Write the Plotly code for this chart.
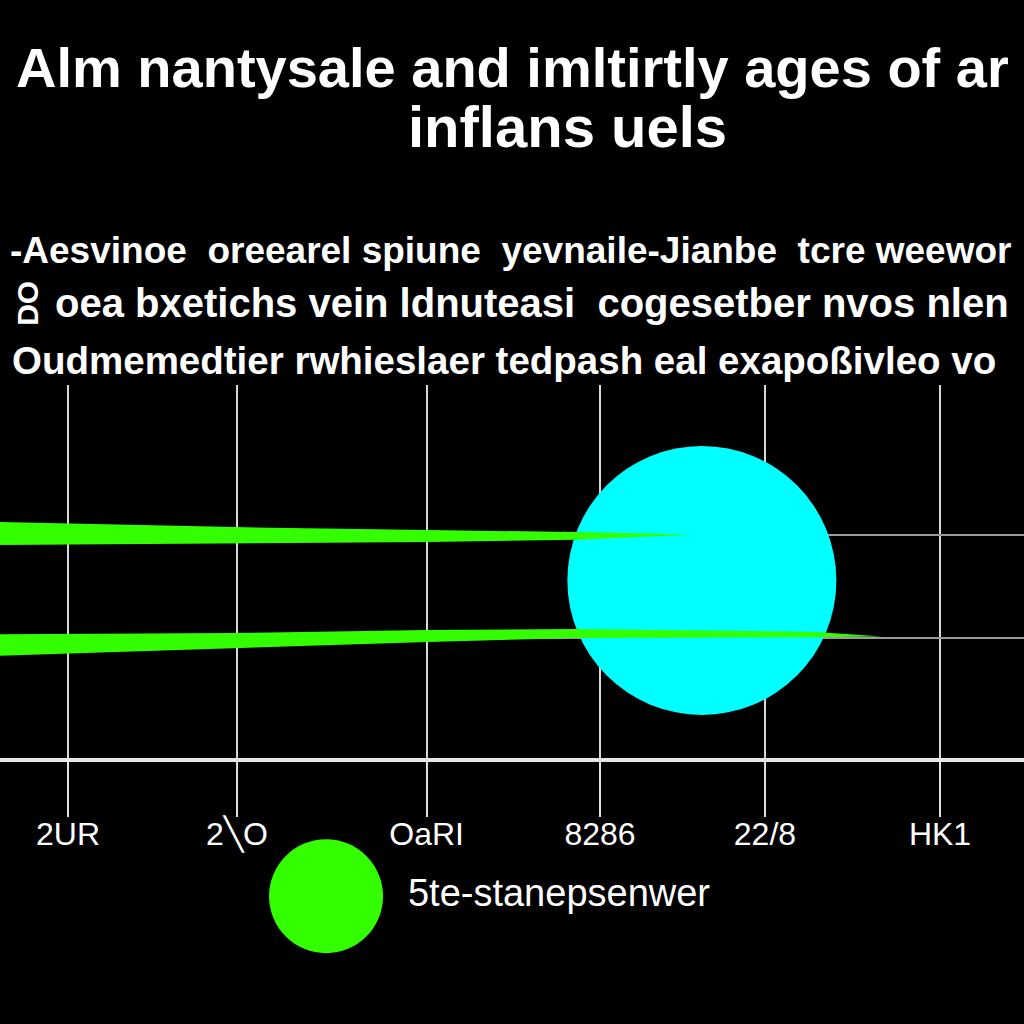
import plotly.graph_objects as go

# ---- data ----
tick_x = [0, 0.994, 2.11, 3.13, 4.1, 5.13]
tick_labels = ["2UR", "2\u2572O", "OaRI", "8286", "22/8", "HK1"]

# upper green band (tapers to a point)
band1_x = [-0.4, 0.982, 2.118, 2.982, 3.671]
band1_top = [6.33, 6.19, 6.11, 6.06, 5.99]
band1_bot = [5.71, 5.76, 5.79, 5.85, 5.99]

# lower green band
band2_x = [-0.4, 0.982, 2.118, 2.982, 4.4, 4.788]
band2_top = [3.32, 3.35, 3.43, 3.46, 3.38, 3.26]
band2_bot = [2.74, 2.95, 3.11, 3.22, 3.24, 3.26]

bubble_x = [3.729]
bubble_y = [4.76]

ygrid_vals = [5.98, 3.22]

legend_x = [3.184]
legend_y = [5.0]
legend_label = "5te-stanepsenwer"

title_lines = ["Alm nantysale and imltirtly ages of ar", "inflans uels"]
sub_lines = [
    "-Aesvinoe  oreearel spiune  yevnaile-Jianbe  tcre weewor",
    "oea bxetichs vein ldnuteasi  cogesetber nvos nlen",
    "Oudmemedtier rwhieslaer tedpash eal exapoßivleo vo",
]

GREEN = "#33ff00"
CYAN = "#00ffff"
FONT = "Liberation Sans"

fig = go.Figure()

fig.add_trace(go.Scatter(
    x=bubble_x, y=bubble_y, mode="markers",
    marker=dict(color=CYAN, size=269, line=dict(width=0)),
    hoverinfo="skip",
))

for bx, top, bot in [(band1_x, band1_top, band1_bot), (band2_x, band2_top, band2_bot)]:
    fig.add_trace(go.Scatter(
        x=bx + bx[::-1], y=top + bot[::-1],
        mode="lines", fill="toself", fillcolor=GREEN,
        line=dict(width=0, color=GREEN), hoverinfo="skip",
    ))

# legend swatch drawn on its own hidden axes
fig.add_trace(go.Scatter(
    x=legend_x, y=legend_y, mode="markers",
    marker=dict(color=GREEN, size=114, line=dict(width=0)),
    xaxis="x2", yaxis="y2", hoverinfo="skip",
))
fig.add_trace(go.Scatter(
    x=[legend_x[0] + 0.8], y=legend_y, mode="text",
    text=[legend_label], textposition="middle right",
    textfont=dict(family=FONT, size=38, color="white"),
    xaxis="x2", yaxis="y2", hoverinfo="skip",
))

annotations = [
    dict(text=title_lines[0], x=0.5, y=1.497, xanchor="center", yanchor="middle",
         font=dict(family=FONT, size=56, color="white", weight="bold")),
    dict(text=title_lines[1], x=0.554, y=1.404, xanchor="center", yanchor="middle",
         font=dict(family=FONT, size=58, color="white", weight="bold")),
    dict(text=sub_lines[0], x=0.008, y=1.211, xanchor="left", yanchor="middle",
         font=dict(family=FONT, size=37, color="white", weight="bold")),
    dict(text=sub_lines[1], x=0.052, y=1.128, xanchor="left", yanchor="middle",
         font=dict(family=FONT, size=40, color="white", weight="bold")),
    dict(text=sub_lines[2], x=0.01, y=1.039, xanchor="left", yanchor="middle",
         font=dict(family=FONT, size=38.5, color="white", weight="bold")),
    dict(text="DO", x=0.027, y=1.128, xanchor="center", yanchor="middle", textangle=-90,
         font=dict(family=FONT, size=30, color="white", weight="bold")),
]
for a in annotations:
    a.update(xref="paper", yref="paper", showarrow=False)

fig.update_layout(
    template="none",
    width=1024, height=1024,
    paper_bgcolor="black", plot_bgcolor="black",
    margin=dict(l=0, r=0, t=385, b=0),
    showlegend=False,
    annotations=annotations,
    xaxis=dict(
        range=[-0.4, 5.624], tickvals=tick_x, ticktext=tick_labels,
        ticks="outside", ticklen=55, tickwidth=2, tickcolor="#e0e0e0",
        ticklabelstandoff=-10,
        tickfont=dict(family=FONT, size=32, color="white"),
        showgrid=True, gridcolor="#d8d8d8", gridwidth=2,
        showline=True, linecolor="#e8e8e8", linewidth=4,
        zeroline=False, automargin=False, fixedrange=True,
    ),
    yaxis=dict(
        domain=[0.4163, 1], range=[0, 10], tickvals=ygrid_vals,
        showticklabels=False, ticks="", showgrid=True,
        gridcolor="#9a9a9a", gridwidth=2, zeroline=False, showline=False,
        automargin=False, fixedrange=True,
    ),
    xaxis2=dict(domain=[0, 1], range=[0, 10], anchor="y2", visible=False),
    yaxis2=dict(domain=[0, 0.4], range=[0, 10], anchor="x2", visible=False),
)

fig.write_html(
    "out.html",
    config={"displayModeBar": False},
    post_script="document.body.style.margin='0';document.body.style.background='black';",
)
